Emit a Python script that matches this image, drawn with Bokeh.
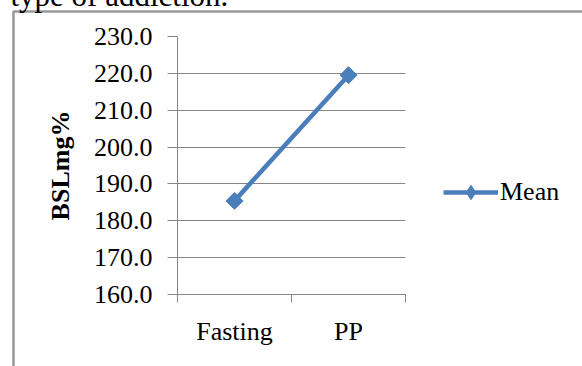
from bokeh.plotting import figure
from bokeh.models import (Range1d, FixedTicker, Legend, LegendItem,
                          NumeralTickFormatter)
from bokeh.core.properties import value
from bokeh.embed import file_html
from bokeh.resources import INLINE
import math

# Blood sugar level, mean values
categories = ["Fasting", "PP"]
mean_bsl = [185.4, 219.5]
y_ticks = [160, 170, 180, 190, 200, 210, 220, 230]

SERIF = "Liberation Serif"
BLUE = "#4a7ebb"
GRID = "#868686"

W, H = 582, 366
FL, FR, FT, FB = 177, 405, 36, 294          # frame edges in canvas pixels
Y0, Y1 = 160, 230

xs = [i + 0.5 for i in range(len(categories))]


def dx(px):
    """canvas x pixel -> data x"""
    return (px - FL) / (FR - FL) * len(categories)


def dy(py):
    """canvas y pixel (from top) -> data y"""
    return Y0 + (FB - py) / (FB - FT) * (Y1 - Y0)


p = figure(frame_width=FR - FL, frame_height=FB - FT, output_backend="svg",
           toolbar_location=None,
           x_range=Range1d(0, len(categories)), y_range=Range1d(Y0, Y1),
           min_border_left=FL, min_border_right=W - FR, min_border_top=FT,
           min_border_bottom=H - FB)
p.outline_line_color = None
p.background_fill_color = "white"
p.border_fill_color = "white"

# y axis
p.yaxis.ticker = FixedTicker(ticks=y_ticks)
p.yaxis.formatter = NumeralTickFormatter(format="0.0")
p.yaxis.major_label_text_font = SERIF
p.yaxis.major_label_text_font_size = "26px"
p.yaxis.major_label_text_color = "black"
p.yaxis.major_tick_out = 10
p.yaxis.major_tick_in = 0
p.yaxis.minor_tick_line_color = None
p.yaxis.major_tick_line_color = GRID
p.yaxis.axis_line_color = GRID
p.yaxis.major_label_standoff = 15
p.yaxis.axis_label = "BSLmg%"
p.yaxis.axis_label_text_font = SERIF
p.yaxis.axis_label_text_font_style = "bold"
p.yaxis.axis_label_text_font_size = "26px"
p.yaxis.axis_label_text_color = "black"
p.yaxis.axis_label_standoff = 16

# x axis: labels at category centres, ticks at category boundaries
p.xaxis.ticker = FixedTicker(ticks=xs, minor_ticks=list(range(len(categories) + 1)))
p.xaxis.major_label_overrides = {x: c for x, c in zip(xs, categories)}
p.xaxis.major_label_text_font = SERIF
p.xaxis.major_label_text_font_size = "26px"
p.xaxis.major_label_text_color = "black"
p.xaxis.major_tick_line_color = None
p.xaxis.major_tick_out = 8
p.xaxis.major_tick_in = 0
p.xaxis.minor_tick_line_color = GRID
p.xaxis.minor_tick_out = 8
p.xaxis.minor_tick_in = 0
p.xaxis.axis_line_color = GRID
p.xaxis.major_label_standoff = 14

p.xgrid.grid_line_color = None
p.ygrid.grid_line_color = GRID
p.ygrid.grid_line_width = 1

line_r = p.line(xs, mean_bsl, line_color=BLUE, line_width=4.5)
p.scatter(xs, mean_bsl, marker="square", size=12, angle=math.pi / 4,
          fill_color=BLUE, line_color=BLUE)
# legend key: diamond marker (the legend does not rotate markers)
key_r = p.scatter(x=[float("nan")], y=[float("nan")], marker="diamond",
                  fill_color=BLUE, line_color=BLUE)

legend = Legend(items=[LegendItem(label="Mean", renderers=[line_r, key_r])],
                location=(38, 84), glyph_width=55, glyph_height=36,
                label_standoff=2, padding=0, margin=0, spacing=0,
                border_line_color=None, background_fill_alpha=0,
                label_text_font=SERIF, label_text_font_size="26px",
                label_text_color="black")
p.add_layout(legend, "right")

# chart box border (left and top edges; the rest runs past the page)
p.line([dx(13), dx(13), dx(W + 50)], [dy(H + 50), dy(11), dy(11)],
       line_color="#999999", line_width=2.5, level="overlay")

# caption line running above the chart box
p.text([dx(10)], [dy(-5)], text=["type of addiction."], text_font=value(SERIF),
       text_font_size="31px", text_color="black", text_baseline="alphabetic",
       level="overlay")

open("out.html", "w").write(file_html(p, INLINE))
